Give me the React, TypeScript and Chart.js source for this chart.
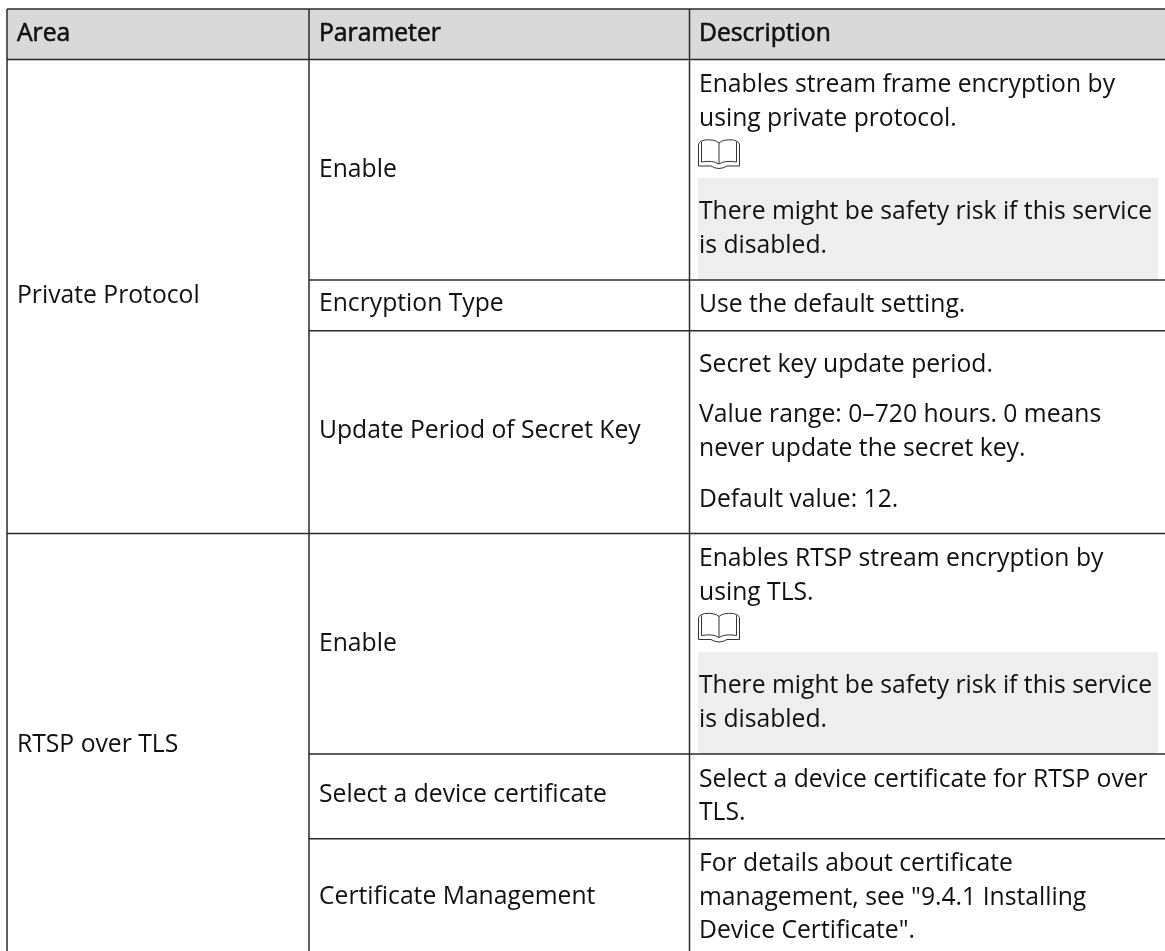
import React, { useEffect, useRef } from "react";
import { Chart, registerables } from "chart.js";

Chart.register(...registerables);

const WIDTH = 1165;
const HEIGHT = 951;
const FONT = '"Open Sans"';
const SIZE = 24.7;

const headers = ["Area", "Parameter", "Description"];
const areaLabels = ["Private Protocol", "RTSP over TLS"];
const parameterLabels = ["Enable", "Encryption Type", "Update Period of Secret Key", "Enable", "Select a device certificate", "Certificate Management"];
const descriptionLines = [
  "Enables stream frame encryption by", "using private protocol.",
  "There might be safety risk if this service", "is disabled.",
  "Use the default setting.",
  "Secret key update period.",
  "Value range: 0–720 hours. 0 means", "never update the secret key.",
  "Default value: 12.",
  "Enables RTSP stream encryption by", "using TLS.",
  "There might be safety risk if this service", "is disabled.",
  "Select a device certificate for RTSP over", "TLS.",
  "For details about certificate", "management, see \"9.4.1 Installing", "Device Certificate\".",
];

const columnEdges = [7, 309, 689.5];
const rowEdges = [9, 59.5, 280, 330.7, 533.5, 754, 838.7];
const headerBaseline = 41;
const areaBaselines = [303, 752];
const parameterBaselines = [177, 311, 438, 651, 802, 904];
const descriptionBaselines = [92, 126, 219, 253, 312, 372, 422, 456, 507, 566, 600, 693, 727, 787, 820, 871, 905, 938];
const noteBands = [[178, 279.5], [652, 753]];
const iconTops = [139, 612.5];

const textPlugin = {
  id: "tableContent",
  beforeDatasetsDraw(chart: any) {
    const { ctx, scales: { x, y } } = chart;
    ctx.save();
    ctx.fillStyle = "#d9d9d9";
    ctx.fillRect(x.getPixelForValue(columnEdges[0]), y.getPixelForValue(rowEdges[0]), WIDTH - columnEdges[0], rowEdges[1] - rowEdges[0]);
    ctx.fillStyle = "#eeeeee";
    noteBands.forEach(([a, b]) => {
      ctx.fillRect(x.getPixelForValue(698), y.getPixelForValue(a), 460, b - a);
    });
    ctx.restore();
  },
  afterDatasetsDraw(chart: any) {
    const { ctx, scales: { x, y } } = chart;
    const px = (v: number) => x.getPixelForValue(v);
    const py = (v: number) => y.getPixelForValue(v);
    ctx.save();
    ctx.textAlign = "left";
    ctx.textBaseline = "alphabetic";
    ctx.fillStyle = "#111111";
    ctx.strokeStyle = "#111111";
    ctx.font = `${SIZE}px ${FONT}`;
    ctx.lineWidth = 0.6;
    const heads = [17, 319, 699];
    headers.forEach((t, i) => {
      ctx.fillText(t, px(heads[i]), py(headerBaseline));
      ctx.strokeText(t, px(heads[i]), py(headerBaseline));
    });
    areaLabels.forEach((t, i) => ctx.fillText(t, px(17), py(areaBaselines[i])));
    parameterLabels.forEach((t, i) => ctx.fillText(t, px(319), py(parameterBaselines[i])));
    descriptionLines.forEach((t, i) => ctx.fillText(t, px(699), py(descriptionBaselines[i])));

    iconTops.forEach((top) => {
      const L = px(698.5), R = px(739.5), M = px(719);
      const t = py(top);
      ctx.strokeStyle = "#333333";
      ctx.lineWidth = 1;
      ctx.beginPath();
      ctx.moveTo(L, t + 27);
      ctx.lineTo(L, t + 5);
      ctx.quadraticCurveTo(L + 1, t + 2, L + 6, t + 1);
      ctx.quadraticCurveTo(M - 4, t, M, t + 4);
      ctx.quadraticCurveTo(M + 4, t, R - 6, t + 1);
      ctx.quadraticCurveTo(R - 1, t + 2, R, t + 5);
      ctx.lineTo(R, t + 27);
      ctx.lineTo(M + 8, t + 27);
      ctx.quadraticCurveTo(M, t + 32, M - 8, t + 27);
      ctx.lineTo(L, t + 27);
      ctx.moveTo(M, t + 4);
      ctx.lineTo(M, t + 25);
      ctx.moveTo(L + 3, t + 3);
      ctx.lineTo(L + 3, t + 23);
      ctx.quadraticCurveTo(M - 6, t + 21, M, t + 25);
      ctx.quadraticCurveTo(M + 6, t + 21, R - 3, t + 23);
      ctx.lineTo(R - 3, t + 3);
      ctx.stroke();
    });
    ctx.restore();
  },
};

function ruleDataset(points: { x: number; y: number }[]) {
  return {
    type: "line" as const,
    data: points,
    borderColor: "#2a2a2a",
    borderWidth: 1.5,
    pointRadius: 0,
    tension: 0,
    fill: false,
  };
}

export default function App() {
  const ref = useRef<HTMLCanvasElement>(null);
  useEffect(() => {
    document.body.style.margin = "0";
    const top = rowEdges[0];
    const horizontals: any[] = [
      [columnEdges[0], rowEdges[0]],
      [columnEdges[0], rowEdges[1]],
      [columnEdges[1], rowEdges[2]],
      [columnEdges[1], rowEdges[3]],
      [columnEdges[0], rowEdges[4]],
      [columnEdges[1], rowEdges[5]],
      [columnEdges[1], rowEdges[6]],
    ].map(([sx, ry]) => ruleDataset([{ x: sx, y: ry }, { x: WIDTH, y: ry }]));
    const verticals: any[] = columnEdges.map((cx) => ruleDataset([{ x: cx, y: top }, { x: cx, y: HEIGHT }]));
    const chart = new Chart(ref.current!, {
      type: "line",
      data: { datasets: [...horizontals, ...verticals] },
      plugins: [textPlugin],
      options: {
        animation: false,
        responsive: false,
        layout: { padding: 0 },
        plugins: { legend: { display: false }, tooltip: { enabled: false } },
        scales: {
          x: { type: "linear", min: 0, max: WIDTH, display: false },
          y: { type: "linear", min: 0, max: HEIGHT, reverse: true, display: false },
        },
      },
    });
    return () => chart.destroy();
  }, []);
  return <canvas ref={ref} width={WIDTH} height={HEIGHT} style={{ display: "block" }} />;
}
